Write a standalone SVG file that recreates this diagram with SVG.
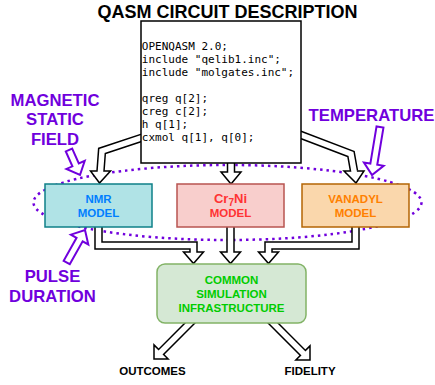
<svg xmlns="http://www.w3.org/2000/svg" width="435" height="385" viewBox="0 0 435 385">
<style>
text{font-family:"Liberation Sans",Arial,sans-serif;font-weight:bold}
.ttl{font-size:18px;fill:#000}
.lbl{font-size:16.7px;fill:#7000DD}
.out{font-size:11.5px;fill:#000}
.mdl{font-size:11.5px}
.code{font-family:"DejaVu Sans Mono","Liberation Mono",monospace;font-weight:normal;font-size:11px;fill:#000}
.so{fill:none;stroke:#000;stroke-width:8.5;stroke-linejoin:miter}
.si{fill:none;stroke:#fff;stroke-width:5.5;stroke-linejoin:miter}
.hd{fill:#fff;stroke:#000;stroke-width:1.5;stroke-linejoin:miter}
.pa{fill:#fff;stroke:#7000DD;stroke-width:2;stroke-linejoin:miter}
</style>
<rect width="435" height="385" fill="#fff"/>
<g id="param-ellipse">
<ellipse cx="227.5" cy="202.5" rx="194" ry="37.5" fill="none" stroke="#7000DD" stroke-width="2.5" stroke-dasharray="2.5 4"/>
</g>
<g id="connectors">
<path class="so" d="M149.5,135.2 L102,151 L100.5,171"/>
<polygon class="hd" points="90.5,171 110.5,171 99.5,183"/>
<path class="si" d="M149.5,135.2 L102,151 L100.4,172.5"/>
<path class="so" d="M292.6,131.8 L351,154 L354,171"/>
<polygon class="hd" points="344,171 364,171 356,183"/>
<path class="si" d="M292.6,131.8 L351,154 L354.3,172.5"/>
<path class="so" d="M231,158 L231,172"/>
<polygon class="hd" points="221,172 241,172 231,184"/>
<path class="si" d="M231,158 L231,173.5"/>
<path class="so" d="M98.5,222 L98.5,245.5 L193.5,245.5 L193.5,252"/>
<polygon class="hd" points="183.5,252 203.5,252 193.5,263.5"/>
<path class="si" d="M98.5,222 L98.5,245.5 L193.5,245.5 L193.5,253.5"/>
<path class="so" d="M230.5,222 L230.5,252"/>
<polygon class="hd" points="220.5,252 240.5,252 230.5,263.5"/>
<path class="si" d="M230.5,222 L230.5,253.5"/>
<path class="so" d="M355.5,222 L355.5,245.5 L268.5,245.5 L268.5,252"/>
<polygon class="hd" points="258.5,252 278.5,252 268.5,263.5"/>
<path class="si" d="M355.5,222 L355.5,245.5 L268.5,245.5 L268.5,253.5"/>
<path class="so" d="M195,318 L161.07,351.93"/>
<polygon class="hd" points="168.14,359 154,344.86 154,359"/>
<path class="si" d="M195,318 L160,353"/>
<path class="so" d="M268,318 L302.93,352.93"/>
<polygon class="hd" points="310,345.86 295.86,360 310,360"/>
<path class="si" d="M268,318 L304,354"/>
</g>
<g id="title">
<text class="ttl" x="227.5" y="18" text-anchor="middle">QASM CIRCUIT DESCRIPTION</text>
</g>
<g id="qasm-box">
<rect x="141" y="21" width="160" height="142" fill="#fff" stroke="#000" stroke-width="1.5"/>
<text class="code" x="141.8" y="50">OPENQASM 2.0;</text>
<text class="code" x="141.8" y="63">include "qelib1.inc";</text>
<text class="code" x="141.8" y="76">include "molgates.inc";</text>
<text class="code" x="141.8" y="102">qreg q[2];</text>
<text class="code" x="141.8" y="115">creg c[2];</text>
<text class="code" x="141.8" y="128">h q[1];</text>
<text class="code" x="141.8" y="141">cxmol q[1], q[0];</text>
</g>
<g id="nmr-model">
<rect x="45" y="184" width="107" height="43" fill="#b0e3e6" stroke="#0e8088" stroke-width="1.5"/>
<text class="mdl" x="98.5" y="203" text-anchor="middle" fill="#007FFF">NMR</text>
<text class="mdl" x="98.5" y="216.5" text-anchor="middle" fill="#007FFF">MODEL</text>
</g>
<g id="cr7ni-model">
<rect x="177" y="184" width="107" height="43" fill="#f8cecc" stroke="#b85450" stroke-width="1.5"/>
<text x="230.5" y="203" text-anchor="middle" fill="#FF3333" font-size="13">Cr<tspan font-size="10" dy="3">7</tspan><tspan dy="-3">Ni</tspan></text>
<text class="mdl" x="230.5" y="216.5" text-anchor="middle" fill="#FF3333">MODEL</text>
</g>
<g id="vanadyl-model">
<rect x="302" y="184" width="107" height="43" fill="#fad7ac" stroke="#b46504" stroke-width="1.5"/>
<text class="mdl" x="355.5" y="203" text-anchor="middle" fill="#FF8000">VANADYL</text>
<text class="mdl" x="355.5" y="216.5" text-anchor="middle" fill="#FF8000">MODEL</text>
</g>
<g id="common-infra">
<rect x="157" y="264" width="149" height="59" rx="8" ry="8" fill="#d5e8d4" stroke="#82b366" stroke-width="1.5"/>
<text class="mdl" x="231.5" y="284" text-anchor="middle" fill="#00CC00">COMMON</text>
<text class="mdl" x="231.5" y="298" text-anchor="middle" fill="#00CC00">SIMULATION</text>
<text class="mdl" x="231.5" y="311.5" text-anchor="middle" fill="#00CC00">INFRASTRUCTURE</text>
</g>
<g id="outcomes">
<text class="out" x="152.5" y="375" text-anchor="middle">OUTCOMES</text>
</g>
<g id="fidelity">
<text class="out" x="310" y="375" text-anchor="middle">FIDELITY</text>
</g>
<g id="magnetic-field">
<text class="lbl" x="55" y="105.5" text-anchor="middle">MAGNETIC</text>
<text class="lbl" x="55" y="125" text-anchor="middle">STATIC</text>
<text class="lbl" x="55" y="145" text-anchor="middle">FIELD</text>
<polygon class="pa" points="72.2,148.6 78.8,163.5 84.73,160.89 80,175 66.41,168.95 72.4,166.3 65.8,151.4"/>
</g>
<g id="temperature">
<text class="lbl" x="371.5" y="121" text-anchor="middle">TEMPERATURE</text>
<polygon class="pa" points="383.45,127.58 377.26,164.73 383.67,165.79 372,175 363.95,162.51 370.36,163.57 376.55,126.42"/>
</g>
<g id="pulse-duration">
<text class="lbl" x="52.5" y="282" text-anchor="middle">PULSE</text>
<text class="lbl" x="52.5" y="302" text-anchor="middle">DURATION</text>
<polygon class="pa" points="69.75,264.22 82.65,241.3 88.31,244.49 85,230 70.89,234.67 76.55,237.86 63.65,260.78"/>
</g>
</svg>
